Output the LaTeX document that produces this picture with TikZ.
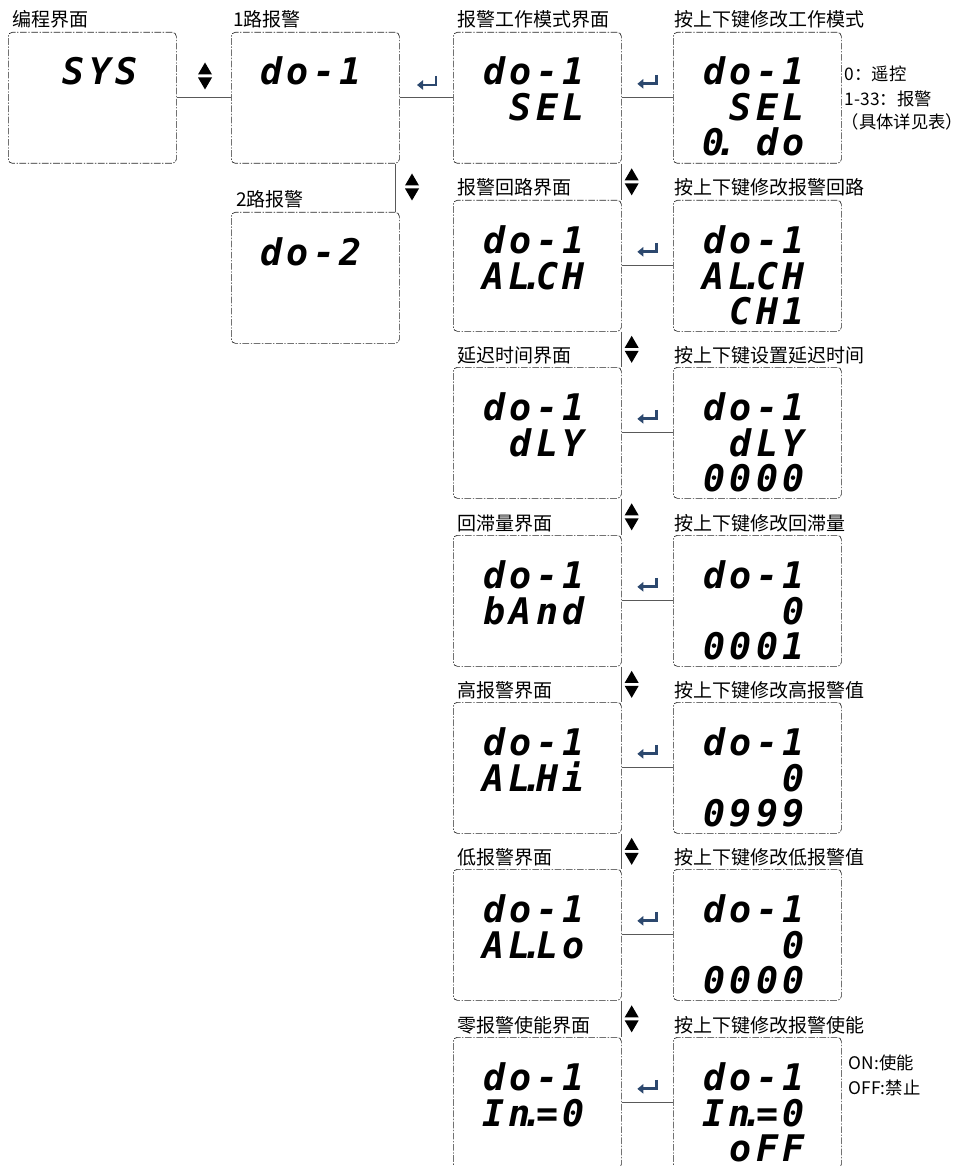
\documentclass[tikz,border=0pt]{standalone}
\usepackage{fontspec}
\usetikzlibrary{arrows.meta,calc}
\newfontfamily\cjk{Noto Sans CJK SC}
\newfontfamily\lcd{DejaVu Sans Mono}[LetterSpace=12]
\definecolor{keyblue}{RGB}{44,72,110}
\newcommand\segdot{\kern0.05em\makebox[0pt]{.}\kern0.1em}
\tikzset{
  screen/.style={draw=black!85, line width=0.5pt, rounded corners=3pt,
    dash pattern=on 5pt off 1.2pt on 1pt off 1.2pt,
    minimum width=126pt, minimum height=98.25pt, inner sep=0pt, anchor=north west},
  title/.style={font=\cjk\fontsize{14.25}{16}\selectfont, anchor=base west, inner sep=0pt},
  note/.style={font=\cjk\fontsize{13}{15}\selectfont, anchor=base west, inner sep=0pt},
  digits/.style={font=\lcd\bfseries\itshape\fontsize{27.5}{27.5}\selectfont, anchor=base east, inner sep=0pt},
  wire/.style={draw=black!65, line width=0.6pt},
  updown/.pic={\fill (-7,-1.5) -- (7,-1.5) -- (0,-13.5) -- cycle;
               \fill (-7,1.5) -- (7,1.5) -- (0,13.5) -- cycle;},
  enterkey/.pic={\draw[keyblue, line width=2.1pt, line join=miter, -{Triangle[length=4.5pt,width=7pt]}]
               (9,-6) -- (9,3) -- (-10,3);},
}
\begin{document}
\begin{tikzpicture}[x=0.75pt,y=-0.75pt]
\useasboundingbox (0,0) rectangle (971,1166);
\clip (0,0) rectangle (971,1166);
% top row
\node[screen] (sys) at (8,32) {};
\node[screen] (do1) at (231,32) {};
\node[screen] (do2) at (231,212) {};
\node[title] at ([shift={(4,-5)}]sys.north west) {编程界面};
\node[title] at ([shift={(2,-5)}]do1.north west) {1路报警};
\node[title] at ([shift={(5,-5)}]do2.north west) {2路报警};
\node[digits] at ([shift={(130,53)}]sys.north west) {SYS};
\node[digits] at ([shift={(131,53)}]do1.north west) {do-1};
\node[digits] at ([shift={(131,53)}]do2.north west) {do-2};
\draw[wire] (sys.east) -- (do1.west);
\draw[wire] ([xshift=-3]do1.south east) -- ([xshift=-3]do2.north east);
\pic at (205,76) {updown};
\pic at (412,187) {updown};
% setting rows
\foreach \r/\top/\lname/\rname/\lb/\rb/\rc in {
  1/32/报警工作模式界面/按上下键修改工作模式/SEL/SEL/0\segdot{} do,
  2/200/报警回路界面/按上下键修改报警回路/AL\segdot CH/AL\segdot CH/CH1,
  3/367/延迟时间界面/按上下键设置延迟时间/dLY/dLY/0000,
  4/535/回滞量界面/按上下键修改回滞量/bAnd/0/0001,
  5/702/高报警界面/按上下键修改高报警值/AL\segdot Hi/0/0999,
  6/869/低报警界面/按上下键修改低报警值/AL\segdot Lo/0/0000,
  7/1037/零报警使能界面/按上下键修改报警使能/In\segdot=0/In\segdot=0/oFF}
{
  \node[screen] (L\r) at (453,\top) {};
  \node[screen] (R\r) at (673,\top) {};
  \node[title] at ([shift={(4,-5)}]L\r.north west) {\lname};
  \node[title] at ([shift={(1,-5)}]R\r.north west) {\rname};
  \node[digits] at ([shift={(132,53)}]L\r.north west) {do-1};
  \node[digits] at ([shift={(132,89)}]L\r.north west) {\lb};
  \node[digits] at ([shift={(132,53)}]R\r.north west) {do-1};
  \node[digits] at ([shift={(132,89)}]R\r.north west) {\rb};
  \node[digits] at ([shift={(132,124)}]R\r.north west) {\rc};
  \draw[wire] (L\r.east) -- (R\r.west);
  \pic at ($(L\r.east)!0.5!(R\r.west)+(0,-17)$) {enterkey};
}
\draw[wire] (do1.east) -- (L1.west);
\pic at (427,82) {enterkey};
\foreach \r in {1,...,6} {
  \pgfmathtruncatemacro\s{\r+1}
  \draw[wire] (L\r.south east) -- (L\s.north east);
  \pic at ($(L\r.south east)!0.5!(L\s.north east)+(10,0)$) {updown};
}
% notes
\node[note] (n1) at ([shift={(3,49)}]R1.north east) {0：遥控};
\node[note] (n2) at ([shift={(3,74)}]R1.north east) {1-33：报警};
\node[note] (n3) at ([shift={(0,97)}]R1.north east) {（具体详见表）};
\node[note] (n4) at ([shift={(7,32)}]R7.north east) {ON:使能};
\node[note] (n5) at ([shift={(7,57)}]R7.north east) {OFF:禁止};
\end{tikzpicture}
\end{document}
